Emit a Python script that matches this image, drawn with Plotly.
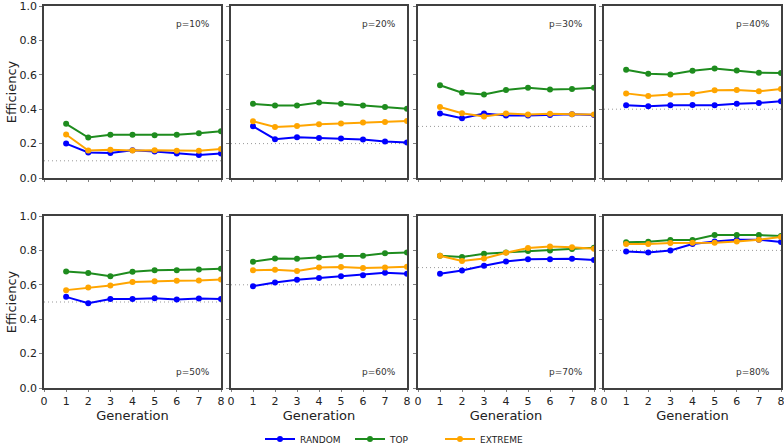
import plotly.graph_objects as go

generations = [1, 2, 3, 4, 5, 6, 7, 8]
p_values = [0.1, 0.2, 0.3, 0.4, 0.5, 0.6, 0.7, 0.8]
p_labels = ["p=10%", "p=20%", "p=30%", "p=40%", "p=50%", "p=60%", "p=70%", "p=80%"]

random_vals = [
    [0.200, 0.148, 0.145, 0.162, 0.154, 0.143, 0.133, 0.143],
    [0.301, 0.226, 0.237, 0.232, 0.230, 0.224, 0.212, 0.207],
    [0.375, 0.347, 0.375, 0.363, 0.363, 0.367, 0.371, 0.367],
    [0.423, 0.417, 0.423, 0.425, 0.423, 0.432, 0.436, 0.446],
    [0.530, 0.493, 0.517, 0.517, 0.522, 0.515, 0.520, 0.518],
    [0.592, 0.614, 0.629, 0.639, 0.649, 0.656, 0.670, 0.664],
    [0.664, 0.683, 0.711, 0.736, 0.748, 0.748, 0.751, 0.744],
    [0.794, 0.788, 0.800, 0.837, 0.852, 0.862, 0.862, 0.849],
]
top_vals = [
    [0.315, 0.235, 0.251, 0.251, 0.249, 0.251, 0.260, 0.272],
    [0.431, 0.421, 0.422, 0.439, 0.431, 0.422, 0.413, 0.403],
    [0.539, 0.496, 0.486, 0.512, 0.525, 0.515, 0.517, 0.525],
    [0.629, 0.606, 0.602, 0.624, 0.637, 0.625, 0.612, 0.610],
    [0.678, 0.668, 0.650, 0.676, 0.685, 0.685, 0.689, 0.693],
    [0.734, 0.753, 0.751, 0.759, 0.767, 0.769, 0.783, 0.788],
    [0.769, 0.761, 0.781, 0.788, 0.796, 0.800, 0.808, 0.816],
    [0.847, 0.850, 0.860, 0.860, 0.889, 0.889, 0.889, 0.883],
]
extreme_vals = [
    [0.253, 0.160, 0.164, 0.160, 0.162, 0.158, 0.158, 0.168],
    [0.330, 0.297, 0.303, 0.313, 0.317, 0.322, 0.326, 0.332],
    [0.413, 0.376, 0.357, 0.375, 0.369, 0.373, 0.371, 0.369],
    [0.492, 0.477, 0.485, 0.490, 0.510, 0.512, 0.504, 0.517],
    [0.569, 0.584, 0.596, 0.616, 0.621, 0.623, 0.625, 0.631],
    [0.685, 0.687, 0.680, 0.701, 0.703, 0.697, 0.701, 0.705],
    [0.769, 0.738, 0.753, 0.786, 0.814, 0.822, 0.818, 0.810],
    [0.837, 0.837, 0.843, 0.845, 0.845, 0.852, 0.862, 0.878],
]

series = [
    ("RANDOM", random_vals, "#0000FF"),
    ("TOP", top_vals, "#1E8C1E"),
    ("EXTREME", extreme_vals, "#FFA500"),
]

W, H = 784, 446
ML, MR, MT, MB = 44, 3, 6, 58
pw = W - ML - MR
ph = H - MT - MB
col_px = [(44, 221), (231, 407), (418, 594), (604, 781)]
row_px = [(6, 178), (216, 388)]

def xdom(c):
    a, b = col_px[c]
    return [(a - ML) / pw, min(1.0, (b - ML) / pw)]

def ydom(r):
    a, b = row_px[r]
    return [max(0.0, 1 - (b - MT) / ph), min(1.0, 1 - (a - MT) / ph)]

fig = go.Figure()
font_family = "DejaVu Sans"
axis_color = "#404040"

for i in range(8):
    r, c = divmod(i, 4)
    xa = "x" if i == 0 else f"x{i+1}"
    ya = "y" if i == 0 else f"y{i+1}"
    for name, vals, color in series:
        fig.add_trace(go.Scatter(
            x=generations, y=vals[i], mode="lines+markers", name=name,
            line=dict(color=color, width=2), marker=dict(color=color, size=6),
            xaxis=xa, yaxis=ya, showlegend=(i == 0), legendgroup=name,
        ))
    fig.add_shape(type="line", xref=xa, yref=ya, x0=0, x1=8,
                  y0=p_values[i], y1=p_values[i],
                  line=dict(color="#999999", width=1, dash="1px,3px"), layer="below")
    ann_y = 0.895 if r == 0 else 0.093
    fig.add_annotation(text=p_labels[i], xref=f"{xa} domain", yref=f"{ya} domain",
                       x=0.95, y=ann_y, xanchor="right", yanchor="middle",
                       showarrow=False, font=dict(size=9, color="#333333", family=font_family))

    xkey = "xaxis" if i == 0 else f"xaxis{i+1}"
    ykey = "yaxis" if i == 0 else f"yaxis{i+1}"
    fig.layout[xkey] = dict(
        domain=xdom(c), anchor=ya, range=[0, 8], tickvals=list(range(9)),
        showticklabels=(r == 1), ticks="outside", ticklen=2, tickcolor="#808080",
        showline=True, linecolor=axis_color, linewidth=1.5, mirror=True,
        showgrid=False, zeroline=False, ticklabeloverflow="allow",
        tickfont=dict(size=11, color="#222222", family=font_family),
        title=dict(text="Generation", font=dict(size=13, color="#222222", family=font_family), standoff=0) if r == 1 else None,
    )
    fig.layout[ykey] = dict(
        domain=ydom(r), anchor=xa, range=[0, 1], tickvals=[0, 0.2, 0.4, 0.6, 0.8, 1.0],
        tickformat=".1f", showticklabels=(c == 0), ticks="outside", ticklen=3, tickcolor="#808080",
        showline=True, linecolor=axis_color, linewidth=1.5, mirror=True,
        showgrid=False, zeroline=False, ticklabeloverflow="allow",
        tickfont=dict(size=11, color="#222222", family=font_family),
        title=dict(text="Efficiency", font=dict(size=13, color="#222222", family=font_family), standoff=0) if c == 0 else None,
    )

fig.update_layout(
    width=W, height=H,
    margin=dict(l=ML, r=MR, t=MT, b=MB, autoexpand=False),
    paper_bgcolor="white", plot_bgcolor="white",
    font=dict(family=font_family),
    legend=dict(orientation="h", x=(260 - ML) / pw, xanchor="left",
                y=(388 - 439) / ph, yanchor="middle",
                font=dict(size=9, color="#222222", family=font_family),
                entrywidth=45, entrywidthmode="pixels", bgcolor="rgba(0,0,0,0)"),
)

fig.write_html("out.html", config={"displayModeBar": False},
               post_script="document.body.style.margin='0px';document.body.style.overflow='hidden';")
